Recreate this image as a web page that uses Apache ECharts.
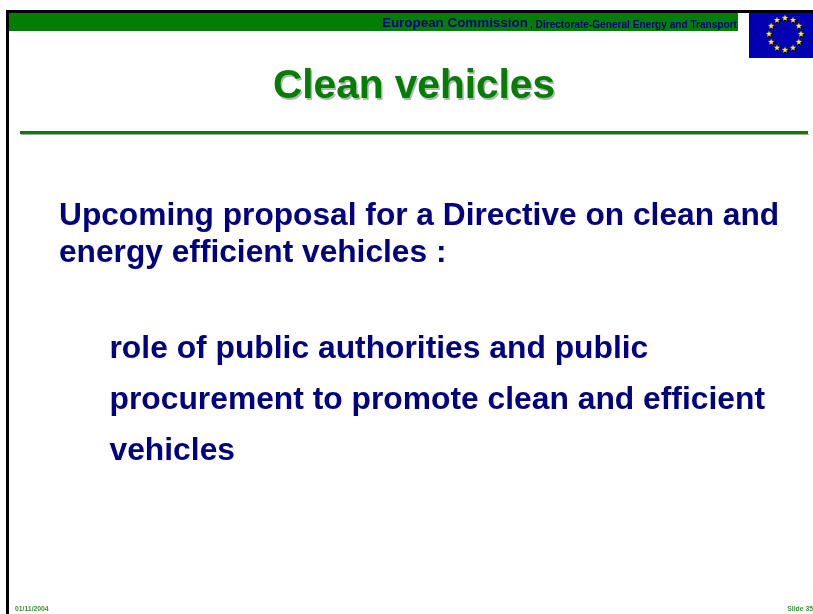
<!DOCTYPE html>
<html>
<head>
<meta charset="utf-8">
<style>
  html, body { margin: 0; padding: 0; background: #fff; }
  #chart { width: 813px; height: 614px; }
</style>
<script src="https://cdn.jsdelivr.net/npm/echarts@6/dist/echarts.min.js"></script>
</head>
<body>
<div id="chart"></div>
<script>
const headerStrong = 'European Commission'
const headerSmall = ', Directorate-General Energy and Transport'
const titleText = 'Clean vehicles'
const leadLines = ['Upcoming proposal for a Directive on clean and', 'energy efficient vehicles :']
const bulletLines = ['role of public authorities and public', 'procurement to promote clean and efficient', 'vehicles']
const dateText = '01/11/2004'
const slideText = 'Slide 35'

const FONT = '"Liberation Sans", Arial, sans-serif'
const GREEN = '#037d03'
const NAVY = '#000080'

function text(x, y, value, size, fill, extra) {
  return {
    type: 'text',
    x: x,
    y: y,
    style: Object.assign({
      text: value,
      fontFamily: FONT,
      fontWeight: 'bold',
      fontSize: size,
      fill: fill,
      textVerticalAlign: 'middle'
    }, extra || {})
  }
}

function rect(x, y, w, h, fill) {
  return { type: 'rect', shape: { x: x, y: y, width: w, height: h }, style: { fill: fill } }
}

// 欧盟旗上的12颗星
function flagStars(cx, cy, r) {
  const stars = []
  for (let i = 0; i < 12; i++) {
    const a = i * Math.PI / 6
    const sx = cx + r * Math.sin(a)
    const sy = cy - r * Math.cos(a)
    const points = []
    for (let k = 0; k < 10; k++) {
      const pr = k % 2 ? 1.4 : 3.3
      const pa = k * Math.PI / 5
      points.push([sx + pr * Math.sin(pa), sy - pr * Math.cos(pa)])
    }
    stars.push({ type: 'polygon', shape: { points: points }, style: { fill: '#ffee00', shadowColor: '#000', shadowOffsetX: 1, shadowOffsetY: 1 } })
  }
  return stars
}

const elements = [
  rect(6, 13, 732, 18, GREEN),
  rect(6, 10, 807, 3, '#000'),
  rect(6, 13, 3, 601, '#000'),
  rect(749, 13, 64, 45, '#0000b0'),
  ...flagStars(785, 34, 16),
  rect(21, 134, 788, 1, '#a9a9a9'),
  rect(20, 131, 788, 3, GREEN),

  text(382, 23.5, headerStrong, 13.4, NAVY),
  text(530, 25, headerSmall, 10.1, NAVY),

  text(415.5, 88.5, titleText, 40.6, '#b5b5b5', { textAlign: 'center' }),
  text(414, 87, titleText, 40.6, GREEN, { textAlign: 'center' }),

  text(59, 216.5, leadLines[0], 31.7, NAVY),
  text(59, 253.5, leadLines[1], 31.7, NAVY),

  text(109.5, 349.5, bulletLines[0], 31.8, NAVY),
  text(109.5, 400.5, bulletLines[1], 31.8, NAVY),
  text(109.5, 451.5, bulletLines[2], 31.8, NAVY),

  text(15, 609, dateText, 6.8, '#2e9a2e'),
  text(813, 609, slideText, 6.8, '#2e9a2e', { textAlign: 'right' })
]

const chart = echarts.init(document.getElementById('chart'), null, { renderer: 'canvas' })
chart.setOption({
  animation: false,
  backgroundColor: '#ffffff',
  graphic: { elements: elements }
})
</script>
</body>
</html>
